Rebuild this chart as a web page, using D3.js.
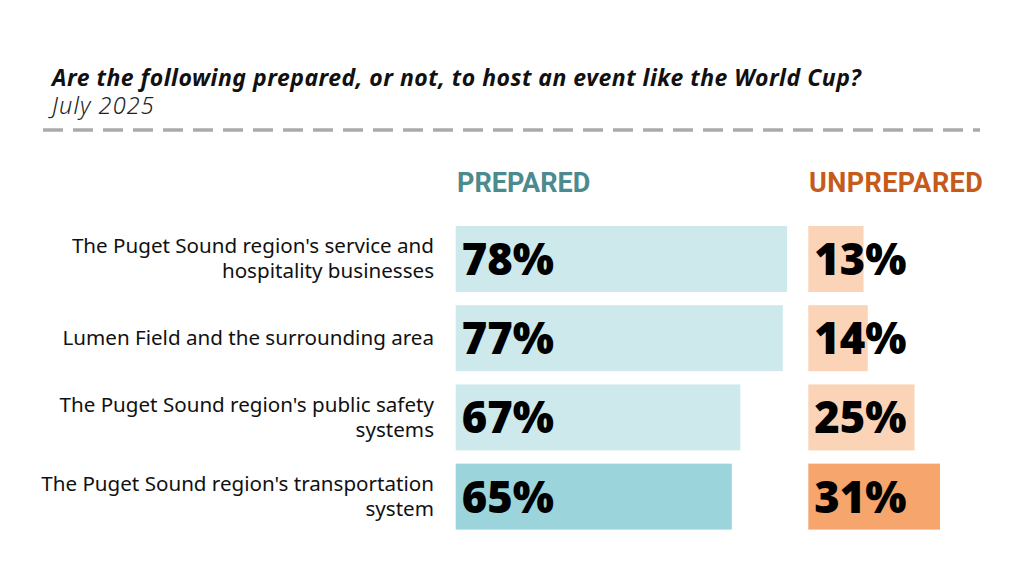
<!DOCTYPE html>
<html>
<head>
<meta charset="utf-8">
<script src="https://cdn.jsdelivr.net/npm/d3@7"></script>
<style>
  body { margin: 0; background: #fff; }
  svg { display: block; }
</style>
</head>
<body>
<svg id="chart" width="1024" height="576"></svg>
<script>
// chart data
const categories = [
    ["The Puget Sound region's service and", "hospitality businesses"],
    ["Lumen Field and the surrounding area"],
    ["The Puget Sound region's public safety", "systems"],
    ["The Puget Sound region's transportation", "system"]
];
const prepared = [78, 77, 67, 65];
const unprepared = [13, 14, 25, 31];
const preparedColors = ["#cde9eb", "#cde9eb", "#cde9eb", "#9cd4dc"];
const unpreparedColors = ["#fbd3b6", "#fbd3b6", "#fbd3b6", "#f6a56d"];

const title = "Are the following prepared, or not, to host an event like the World Cup?";
const subtitle = "July 2025";

const svg = d3.select("#chart");

// title block
svg.append("text")
    .attr("x", 52).attr("y", 86)
    .attr("font-family", "'Noto Sans', sans-serif")
    .attr("font-size", 23)
    .attr("font-weight", "bold")
    .attr("font-style", "italic")
    .attr("letter-spacing", 0.5)
    .attr("fill", "#111")
    .text(title);

svg.append("text")
    .attr("x", 52).attr("y", 114)
    .attr("font-family", "'Noto Sans', sans-serif")
    .attr("font-size", 23.5)
    .attr("font-weight", 300)
    .attr("font-style", "italic")
    .attr("letter-spacing", 1.1)
    .attr("fill", "#222")
    .text(subtitle);

svg.append("line")
    .attr("x1", 43).attr("x2", 980)
    .attr("y1", 130).attr("y2", 130)
    .attr("stroke", "#aaaaaa")
    .attr("stroke-width", 3.3)
    .attr("stroke-dasharray", "20,10");

// scales
const y = d3.scaleBand()
    .domain(d3.range(categories.length))
    .range([226, 529.6])
    .paddingInner(0.167)
    .paddingOuter(0);

const x = d3.scaleLinear().domain([0, 100]).range([0, 424.8]);
const prepX = 455.7;
const unprepX = 808.3;

// column headers
svg.append("text")
    .attr("x", 457).attr("y", 192)
    .attr("font-family", "Roboto, sans-serif")
    .attr("font-size", 27)
    .attr("font-weight", "bold")
    .attr("fill", "#4b8a8e")
    .text("PREPARED");

svg.append("text")
    .attr("x", 809).attr("y", 192)
    .attr("font-family", "Roboto, sans-serif")
    .attr("font-size", 27)
    .attr("font-weight", "bold")
    .attr("letter-spacing", 0.4)
    .attr("fill", "#c65a1b")
    .text("UNPREPARED");

// category labels
const labels = svg.append("g")
    .selectAll("text")
    .data(categories)
    .join("text")
    .attr("text-anchor", "end")
    .attr("font-family", "'Noto Sans', sans-serif")
    .attr("font-size", 20.6)
    .attr("fill", "#111");

labels.each(function(lines, i) {
    const cy = y(i) + y.bandwidth() / 2;
    const top = cy + 7 - (lines.length - 1) * 12.5;
    d3.select(this).selectAll("tspan")
        .data(lines)
        .join("tspan")
        .attr("x", 434)
        .attr("y", (d, j) => top + j * 25)
        .text(d => d);
});

// bars
svg.append("g")
    .selectAll("rect")
    .data(prepared)
    .join("rect")
    .attr("x", prepX)
    .attr("y", (d, i) => y(i))
    .attr("width", d => x(d))
    .attr("height", y.bandwidth())
    .attr("fill", (d, i) => preparedColors[i]);

svg.append("g")
    .selectAll("rect")
    .data(unprepared)
    .join("rect")
    .attr("x", unprepX)
    .attr("y", (d, i) => y(i))
    .attr("width", d => x(d))
    .attr("height", y.bandwidth())
    .attr("fill", (d, i) => unpreparedColors[i]);

// value labels
function valueLabels(data, x0) {
    svg.append("g")
        .selectAll("text")
        .data(data)
        .join("text")
        .attr("x", x0 + 6)
        .attr("y", (d, i) => y(i) + y.bandwidth() / 2 + 16)
        .attr("font-family", "'Noto Sans', sans-serif")
        .attr("font-size", 43.5)
        .attr("font-weight", 900)
        .attr("fill", "#000")
        .text(d => d + "%");
}
valueLabels(prepared, prepX);
valueLabels(unprepared, unprepX);
</script>
</body>
</html>
